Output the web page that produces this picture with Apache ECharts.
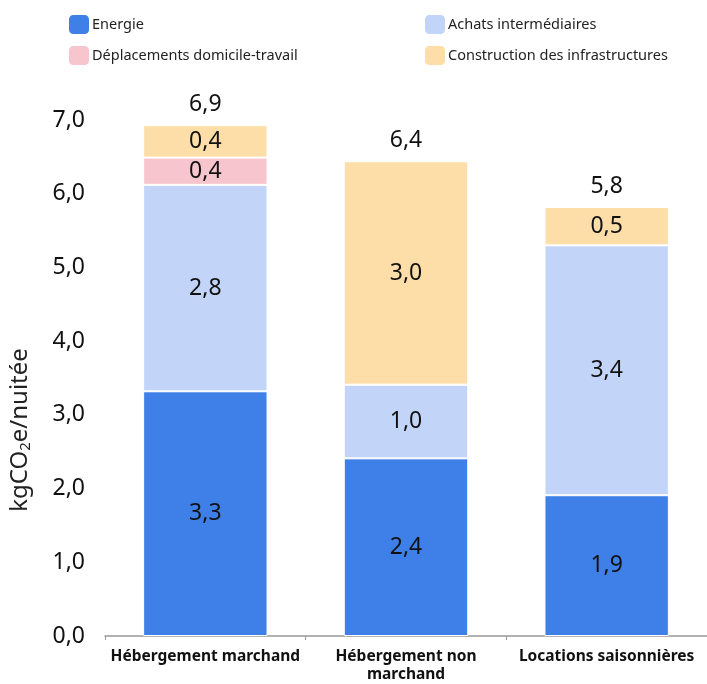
<!DOCTYPE html>
<html>
<head>
<meta charset="utf-8">
<script src="https://cdn.jsdelivr.net/npm/echarts@6/dist/echarts.min.js"></script>
<style>
  html, body { margin: 0; padding: 0; background: #fff; }
  #chart { width: 707px; height: 684px; }
</style>
</head>
<body>
<div id="chart"></div>
<script>
// categories and values
var categories = ['Hébergement marchand', 'Hébergement non\nmarchand', 'Locations saisonnières']
var energie = [3.32, 2.41, 1.91]
var achats = [2.80, 1.00, 3.39]
var deplacements = [0.37, 0, 0]
var construction = [0.44, 3.03, 0.52]
var totals = [6.9, 6.4, 5.8]
var yTicks = [0, 1, 2, 3, 4, 5, 6, 7]

var fontFamily = 'Noto Sans'

function fmt(v) {
  return v.toFixed(1).replace('.', ',')
}

function segLabel() {
  return {
    show: true,
    position: 'inside',
    color: '#111',
    fontSize: 23,
    fontFamily: fontFamily,
    formatter: function (p) { return p.value > 0 ? fmt(p.value) : '' }
  }
}

function seg(name, data, color) {
  return {
    name: name,
    type: 'bar',
    stack: 'total',
    barWidth: '62%',
    data: data,
    itemStyle: { color: color, borderColor: '#fff', borderWidth: 1 },
    label: segLabel()
  }
}

var legendText = { fontSize: 14.5, color: '#222', fontFamily: fontFamily, padding: [0, 0, 0, -3] }

var chart = echarts.init(document.getElementById('chart'))
chart.setOption({
  animation: false,
  textStyle: { fontFamily: fontFamily },
  legend: [{
    left: 62, top: 8, orient: 'vertical', itemGap: 8,
    itemWidth: 22, itemHeight: 21,
    textStyle: legendText,
    data: ['Energie', 'Déplacements domicile-travail']
  }, {
    left: 418, top: 8, orient: 'vertical', itemGap: 8,
    itemWidth: 22, itemHeight: 21,
    textStyle: legendText,
    data: ['Achats intermédiaires', 'Construction des infrastructures']
  }],
  grid: { left: 105, right: -3, top: 120, bottom: 44 },
  xAxis: {
    type: 'category',
    data: categories,
    axisLine: { lineStyle: { color: '#999', width: 1.5 } },
    axisTick: { show: true, length: 4, lineStyle: { color: '#999' } },
    axisLabel: { interval: 0, color: '#111', fontSize: 15.5, fontWeight: 'bold', margin: 12, lineHeight: 18, fontFamily: fontFamily }
  },
  yAxis: {
    type: 'value',
    min: yTicks[0],
    max: yTicks[yTicks.length - 1],
    interval: 1,
    splitLine: { show: false },
    axisLine: { show: false },
    axisTick: { show: false },
    axisLabel: { color: '#111', fontSize: 23, margin: 20, fontFamily: fontFamily, formatter: function (v) { return fmt(v) } },
    name: 'kgCO{sub|2}e/nuitée',
    nameLocation: 'middle',
    nameGap: 72,
    nameTextStyle: {
      fontSize: 24, color: '#222', fontFamily: fontFamily,
      padding: [0, 104, 0, 0],
      rich: { sub: { fontSize: 15, verticalAlign: 'bottom', padding: [10, 0, 0, 0], color: '#222' } }
    }
  },
  series: [
    seg('Energie', energie, '#3F80E8'),
    seg('Achats intermédiaires', achats, '#C2D5F8'),
    seg('Déplacements domicile-travail', deplacements, '#F7C5CD'),
    seg('Construction des infrastructures', construction, '#FDDEA8'),
    {
      name: 'total',
      type: 'bar',
      stack: 'total',
      data: [0, 0, 0],
      itemStyle: { color: 'transparent' },
      label: {
        show: true,
        position: 'top',
        distance: 9,
        color: '#111',
        fontSize: 23,
        fontFamily: fontFamily,
        formatter: function (p) { return fmt(totals[p.dataIndex]) }
      }
    }
  ]
})
</script>
</body>
</html>
